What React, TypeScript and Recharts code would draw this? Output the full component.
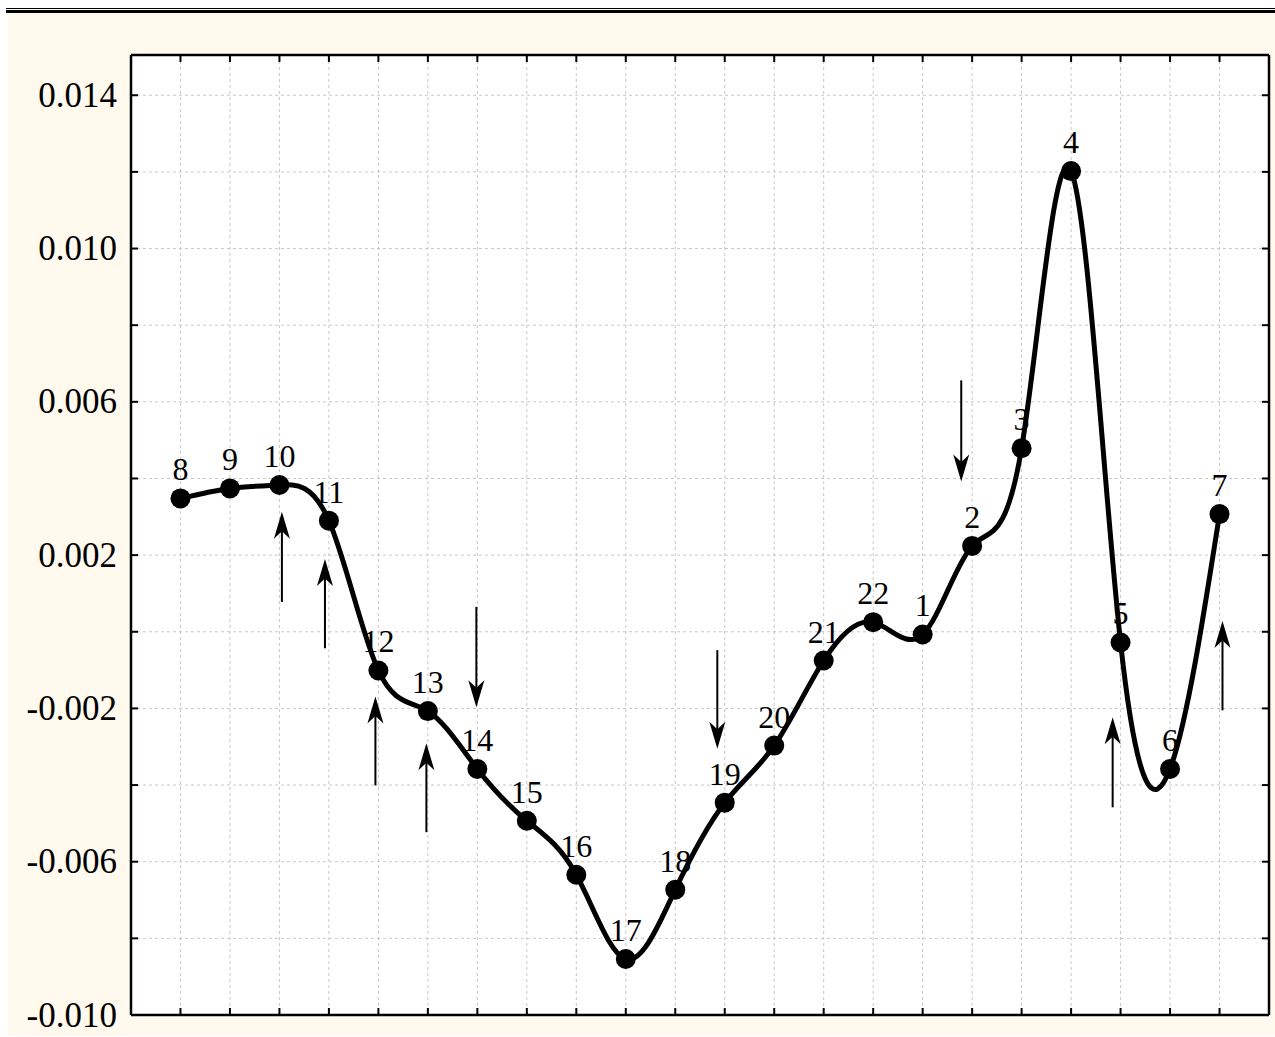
import React from 'react';
import { LineChart, Line, XAxis, YAxis, CartesianGrid, LabelList, ReferenceLine } from 'recharts';

// point order along the curve, as labelled on the chart
const pointLabels = ['8', '9', '10', '11', '12', '13', '14', '15', '16', '17', '18', '19', '20', '21', '22', '1', '2', '3', '4', '5', '6', '7'];
const positions = [1, 2, 3, 4, 5, 6, 7, 8, 9, 10, 11, 12, 13, 14, 15, 16, 17, 18, 19, 20, 21, 22];
const values = [
  0.00348, 0.00374, 0.00383, 0.0029, -0.00101, -0.00207, -0.00358, -0.00493, -0.00634, -0.00854, -0.00673,
  -0.00446, -0.00297, -0.00075, 0.00025, -0.00007, 0.00224, 0.00479, 0.01202, -0.00028, -0.00358, 0.00307,
];

// arrows: x position, tail value, head value
const arrowX = [3.05, 3.92, 4.94, 5.97, 6.98, 11.85, 16.78, 19.84, 22.06];
const arrowFrom = [0.00078, -0.00043, -0.00401, -0.00523, 0.00065, -0.00048, 0.00656, -0.00458, -0.00205];
const arrowTo = [0.00313, 0.0019, -0.00169, -0.00291, -0.00197, -0.00305, 0.00392, -0.00223, 0.00028];

const xTicks = [1, 2, 3, 4, 5, 6, 7, 8, 9, 10, 11, 12, 13, 14, 15, 16, 17, 18, 19, 20, 21, 22];
const yTicks = [-0.01, -0.008, -0.006, -0.004, -0.002, 0, 0.002, 0.004, 0.006, 0.008, 0.01, 0.012, 0.014];
const yLabels = ['-0.010', '-0.006', '-0.002', '0.002', '0.006', '0.010', '0.014'];

const data = positions.map((p, i) => ({ pos: p, value: values[i], label: pointLabels[i] }));
const arrows = arrowX.map((x, i) => ({ x, from: arrowFrom[i], to: arrowTo[i] }));

const FONT = '"Liberation Serif", "Times New Roman", serif';

const LeftTick = (props: any) => {
  const { x, y, payload } = props;
  const txt = Number(payload.value).toFixed(3);
  return (
    <g>
      <line x1={x} y1={y} x2={x + 7} y2={y} stroke="#000" strokeWidth={2} />
      {yLabels.includes(txt) && (
        <text x={x - 14} y={y} textAnchor="end" dominantBaseline="central" fontSize={35} fontFamily={FONT} fill="#000">
          {txt}
        </text>
      )}
    </g>
  );
};

const Arrow = (props: any) => {
  const { x1, y1, x2, y2 } = props;
  const len = Math.hypot(x2 - x1, y2 - y1) || 1;
  const dx = (x2 - x1) / len;
  const dy = (y2 - y1) / len;
  const L = 27;
  const w = 8;
  const bx = x2 - dx * L;
  const by = y2 - dy * L;
  const nx = x2 - dx * L * 0.72;
  const ny = y2 - dy * L * 0.72;
  return (
    <g>
      <line x1={x1} y1={y1} x2={nx} y2={ny} stroke="#000" strokeWidth={2} />
      <path d={`M${x2},${y2} L${bx - dy * w},${by + dx * w} L${nx},${ny} L${bx + dy * w},${by - dx * w} Z`} fill="#000" />
    </g>
  );
};

const axisStyle = { stroke: '#000', strokeWidth: 2.5 };
const tickStyle = { stroke: '#000', strokeWidth: 2 };

export default function App() {
  return (
    <div style={{ position: 'relative', width: 1275, height: 1037, background: '#fff', overflow: 'hidden' }}>
      <style>{`body{margin:0}`}</style>
      <div style={{ position: 'absolute', left: 6, top: 8, right: 0, height: 1, background: '#000' }} />
      <div style={{ position: 'absolute', left: 6, top: 10, right: 0, height: 3, background: '#000' }} />
      <div style={{ position: 'absolute', left: 8, top: 13, right: 0, bottom: 1, background: '#FFF9EE' }} />
      <div style={{ position: 'absolute', left: 0, top: 0 }}>
        <LineChart
          width={1275}
          height={1037}
          data={data}
          margin={{ top: 55, right: 6, bottom: 22, left: 0 }}
          style={{ fontFamily: FONT }}
        >
          <CartesianGrid
            xAxisId="b"
            yAxisId="l"
            stroke="#c8c8c8"
            strokeDasharray="3 3"
            fill="#fff"
            fillOpacity={1}
          />
          <XAxis
            xAxisId="b"
            type="number"
            dataKey="pos"
            domain={[0, 23]}
            ticks={xTicks}
            mirror
            height={1}
            tickSize={7}
            tickFormatter={() => ''}
            axisLine={axisStyle}
            tickLine={tickStyle}
          />
          <XAxis
            xAxisId="t"
            orientation="top"
            type="number"
            dataKey="pos"
            domain={[0, 23]}
            ticks={xTicks}
            mirror
            height={1}
            tickSize={7}
            tickFormatter={() => ''}
            axisLine={axisStyle}
            tickLine={tickStyle}
          />
          <YAxis
            yAxisId="l"
            type="number"
            domain={[-0.01, 0.01505]}
            ticks={yTicks}
            width={131}
            tickSize={0}
            tickMargin={0}
            tickLine={false}
            tick={<LeftTick />}
            axisLine={axisStyle}
            allowDataOverflow
          />
          <YAxis
            yAxisId="r"
            orientation="right"
            type="number"
            domain={[-0.01, 0.01505]}
            ticks={yTicks}
            mirror
            width={1}
            tickSize={7}
            tickFormatter={() => ''}
            axisLine={axisStyle}
            tickLine={tickStyle}
            allowDataOverflow
          />
          {arrows.map((a, i) => (
            <ReferenceLine
              key={`arrow-${i}`}
              xAxisId="b"
              yAxisId="l"
              segment={[{ x: a.x, y: a.from }, { x: a.x, y: a.to }]}
              shape={<Arrow />}
            />
          ))}
          <Line
            xAxisId="b"
            yAxisId="l"
            dataKey="value"
            type="natural"
            stroke="none"
            dot={false}
            activeDot={false}
            isAnimationActive={false}
          >
            <LabelList dataKey="label" position="top" offset={18} fontSize={32} fontFamily={FONT} fill="#000" />
          </Line>
          <Line
            xAxisId="b"
            yAxisId="l"
            dataKey="value"
            type="natural"
            stroke="#000"
            strokeWidth={5}
            dot={{ r: 10, fill: '#000', stroke: '#000', strokeWidth: 0 }}
            activeDot={false}
            isAnimationActive={false}
          />
        </LineChart>
      </div>
    </div>
  );
}
